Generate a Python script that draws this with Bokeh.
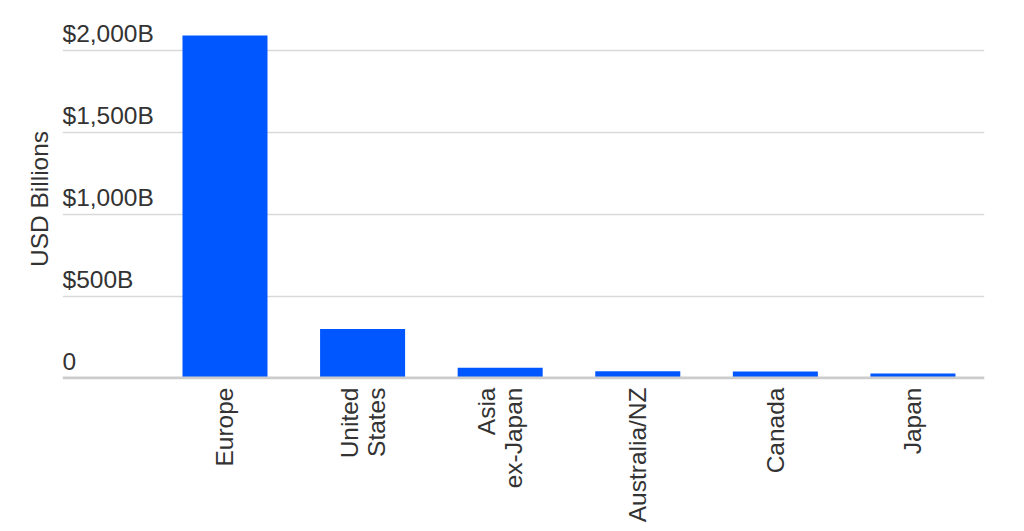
import math
from bokeh.plotting import figure
from bokeh.models import FixedTicker, Range1d, ColumnDataSource, Span
from bokeh.core.properties import value
from bokeh.embed import file_html
from bokeh.resources import INLINE

regions = ["Europe", "United\nStates", "Asia\nex-Japan", "Australia/NZ", "Canada", "Japan"]
values_usd_bn = [2090, 299, 62, 41, 40, 27]
y_ticks = [0, 500, 1000, 1500, 2000]
y_tick_labels = ["0", "$500B", "$1,000B", "$1,500B", "$2,000B"]

FONT = "Liberation Sans"
TXT = "#333333"
FS = "24.5px"

xs = list(range(len(regions)))
X0, X1 = -1.181, 5.52

p = figure(width=1010, height=525, output_backend="svg", toolbar_location=None,
           x_range=Range1d(X0, X1), y_range=Range1d(-9.1, 2194.2),
           min_border_left=62, min_border_right=26, min_border_top=18, min_border_bottom=144)
p.outline_line_color = None
p.background_fill_color = "white"
p.border_fill_color = "white"

# grid
p.xgrid.visible = False
p.ygrid.ticker = FixedTicker(ticks=[t for t in y_ticks if t > 0])
p.ygrid.grid_line_color = "#d9d9d9"
p.ygrid.grid_line_width = 1.5

# zero line
p.add_layout(Span(location=0, dimension="width", line_color="#cccccc", line_width=3))

src = ColumnDataSource(dict(x=xs, top=values_usd_bn))
p.vbar(x="x", top="top", bottom=0, width=0.618, source=src,
       fill_color="#0057ff", line_color=None)

# y tick labels above grid lines
lab = ColumnDataSource(dict(x=[X0] * len(y_ticks), y=y_ticks, t=y_tick_labels))
p.text(x="x", y="y", text="t", source=lab, text_font=value(FONT), text_font_size=FS,
       text_color=TXT, text_baseline="alphabetic", text_align="left", y_offset=-17)

# y axis: only title
p.yaxis.ticker = FixedTicker(ticks=[])
p.yaxis.axis_line_color = None
p.yaxis.major_tick_line_color = None
p.yaxis.minor_tick_line_color = None
p.yaxis.major_tick_out = 0
p.yaxis.major_label_standoff = 0
p.yaxis.axis_label = "USD Billions"
p.yaxis.axis_label_text_font = FONT
p.yaxis.axis_label_text_font_size = FS
p.yaxis.axis_label_text_font_style = "normal"
p.yaxis.axis_label_text_color = TXT
p.yaxis.axis_label_standoff = 10

# x axis
p.xaxis.ticker = FixedTicker(ticks=xs)
p.xaxis.major_label_overrides = {i: r for i, r in zip(xs, regions)}
p.xaxis.major_label_orientation = math.pi / 2
p.xaxis.axis_line_color = None
p.xaxis.major_tick_line_color = None
p.xaxis.minor_tick_line_color = None
p.xaxis.major_tick_out = 0
p.xaxis.major_tick_in = 0
p.xaxis.major_label_standoff = 8
p.xaxis.major_label_text_font = FONT
p.xaxis.major_label_text_font_size = FS
p.xaxis.major_label_text_line_height = 1.0
p.xaxis.major_label_text_color = TXT

open("out.html", "w").write(file_html(p, INLINE))
